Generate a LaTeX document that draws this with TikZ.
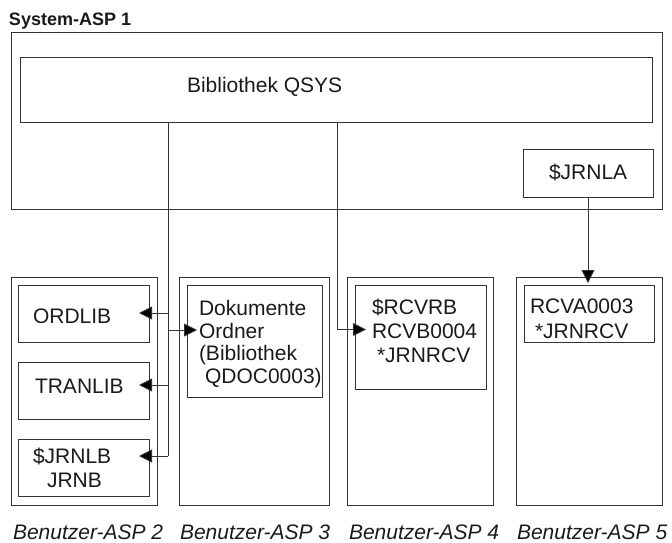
\documentclass[tikz,border=0pt]{standalone}
\usepackage{fontspec}
\setmainfont{Liberation Sans}
\usetikzlibrary{arrows.meta}
\definecolor{ink}{HTML}{1A1A1A}
\definecolor{rule}{HTML}{333333}
\begin{document}
\begin{tikzpicture}[x=1pt,y=-1pt,
  box/.style={draw=rule, line width=0.9pt, rectangle, inner sep=0pt, outer sep=0pt, anchor=north west},
  txt/.style={anchor=base west, inner sep=0pt, outer sep=0pt, text=ink, font=\fontsize{21}{23}\selectfont},
  lbl/.style={txt, font=\fontsize{21}{23}\selectfont\itshape},
  title/.style={txt, font=\fontsize{18}{20}\selectfont\bfseries},
  conn/.style={draw=rule, line width=0.9pt},
  arrow/.style={conn, -{Triangle[length=13pt,width=13pt,fill=black]}}]
\useasboundingbox (0,0) rectangle (672,542);

% system ASP with the QSYS library and the journal $JRNLA
\node[title] (systitle) at (9,25) {System-ASP 1};
\node[box, minimum width=651pt, minimum height=177pt] (sysasp) at (11,32) {};
\node[box, minimum width=632pt, minimum height=65pt] (qsys) at (20,57) {};
\node[txt] (qsystxt) at (187,92) {Bibliothek QSYS};
\node[box, minimum width=130pt, minimum height=48pt] (jrnla) at (523,149) {};
\node[txt] (jrnlatxt) at (549,179) {\$JRNLA};

% user ASP 2
\node[box, minimum width=146pt, minimum height=228pt] (asp2) at (11,277) {};
\node[box, minimum width=131pt, minimum height=57pt] (ordlib) at (18,285) {};
\node[txt] (ordlibtxt) at (33,323) {ORDLIB};
\node[box, minimum width=131pt, minimum height=57pt] (tranlib) at (18,362) {};
\node[txt] (tranlibtxt) at (35,393) {TRANLIB};
\node[box, minimum width=131pt, minimum height=57pt] (jrnlb) at (18,439) {};
\node[txt] (jrnlbtxta) at (33,463) {\$JRNLB};
\node[txt] (jrnlbtxtb) at (47,487) {JRNB};

% user ASP 3
\node[box, minimum width=150pt, minimum height=228pt] (asp3) at (179,277) {};
\node[box, minimum width=135pt, minimum height=112pt] (docs) at (187,285) {};
\node[txt] (docsa) at (199,315) {Dokumente};
\node[txt] (docsb) at (199,338) {Ordner};
\node[txt] (docsc) at (199,360.5) {(Bibliothek};
\node[txt] (docsd) at (205,383) {QDOC0003)};

% user ASP 4
\node[box, minimum width=146pt, minimum height=228pt] (asp4) at (347,277) {};
\node[box, minimum width=131pt, minimum height=104pt] (rcvb) at (355,285) {};
\node[txt] (rcvba) at (372,314) {\$RCVRB};
\node[txt] (rcvbb) at (372,338) {RCVB0004};
\node[txt] (rcvbc) at (377,362) {*JRNRCV};

% user ASP 5
\node[box, minimum width=146pt, minimum height=228pt] (asp5) at (516,277) {};
\node[box, minimum width=130pt, minimum height=57pt] (rcva) at (524,285) {};
\node[txt] (rcvaa) at (530,313) {RCVA0003};
\node[txt] (rcvab) at (535,338) {*JRNRCV};

% captions under the user ASPs
\node[lbl] (cap2) at (13,539) {Benutzer-ASP 2};
\node[lbl] (cap3) at (180,539) {Benutzer-ASP 3};
\node[lbl] (cap4) at (349,539) {Benutzer-ASP 4};
\node[lbl] (cap5) at (517,539) {Benutzer-ASP 5};

% entry points of the connectors on the target boxes
\coordinate (ordin) at ([yshift=0.5pt]ordlib.east);
\coordinate (tranin) at ([yshift=5.5pt]tranlib.east);
\coordinate (jrnlbin) at ([yshift=11.5pt]jrnlb.east);
\coordinate (docsin) at ([yshift=11pt]docs.west);
\coordinate (rcvbin) at ([yshift=7.5pt]rcvb.west);

% connectors
\coordinate (trunkA) at (168,0);
\coordinate (trunkB) at (337,0);
\draw[conn] (qsys.south -| trunkA) -- (trunkA |- jrnlbin);
\draw[arrow, shorten >=-10pt] (trunkA |- ordin) -- (ordin);
\draw[arrow, shorten >=-10pt] (trunkA |- tranin) -- (tranin);
\draw[arrow, shorten >=-10pt] (trunkA |- jrnlbin) -- (jrnlbin);
\draw[arrow, shorten >=-10pt] (trunkA |- docsin) -- (docsin);
\draw[arrow, shorten >=-11pt] (qsys.south -| trunkB) |- (rcvbin);
\draw[arrow, shorten >=2pt] (jrnla.south) -- (jrnla.south |- rcva.north);
\end{tikzpicture}
\end{document}
